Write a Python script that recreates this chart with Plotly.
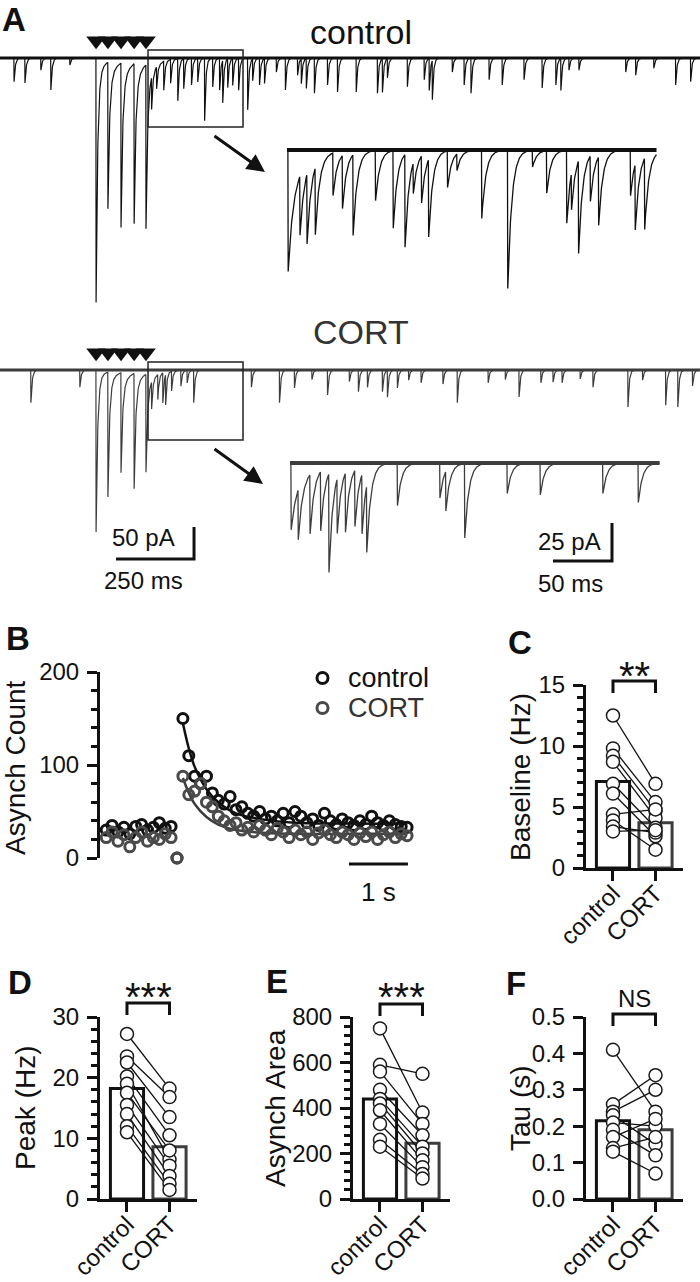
import numpy as np
import plotly.graph_objects as go

# ======================= DATA =======================
# --- Panel A: evoked + spontaneous events, main traces (time in ms, amplitude in pA) ---
STIM_MS = [308, 346, 388, 430, 468]
CTRL_STIM_PEAK_PA = [382, 229, 257, 250, 256]
CTRL_STIM_SLOW_PA = [30, 35, 40, 40, 40]
CORT_STIM_PEAK_PA = [253, 195, 156, 180, 153]
CORT_STIM_SLOW_PA = [15, 20, 25, 25, 25]

CTRL_EVT_MS = [45, 80, 131, 163, 224, 486, 502, 525, 547, 570, 589, 614, 634, 656, 682,
               704, 714, 730, 746, 765, 794, 810, 832, 848, 886, 915, 954, 966, 982, 1008,
               1050, 1082, 1142, 1210, 1226, 1242, 1306, 1360, 1376, 1386, 1450, 1488, 1510,
               1568, 1610, 1680, 1738, 1782, 1798, 1824, 1856, 2006, 2038, 2096, 2166, 2214]
CTRL_EVT_PA = [37, 39, 19, 50, 11, 50, 34, 45, 37, 66, 47, 42, 37, 98, 45,
               50, 66, 45, 42, 50, 81, 34, 42, 39, 22, 50, 27, 39, 47, 55,
               42, 53, 53, 55, 53, 30, 45, 34, 50, 61, 22, 42, 55,
               34, 42, 34, 47, 42, 50, 19, 19, 22, 27, 16, 42, 37]

CORT_EVT_MS = [99, 256, 486, 506, 522, 531, 550, 580, 600, 621, 806, 896, 944, 1000, 1050,
               1120, 1149, 1178, 1226, 1242, 1274, 1310, 1350, 1420, 1466, 1565, 1620, 1664,
               1734, 1773, 1802, 1860, 1901, 2013, 2060, 2134, 2173, 2220]
CORT_EVT_PA = [51, 27, 42, 39, 47, 47, 31, 25, 20, 51, 27, 51, 28, 15, 39,
               18, 34, 27, 34, 42, 28, 16, 20, 22, 51, 20, 15, 42,
               20, 19, 20, 14, 27, 58, 16, 55, 58, 25]

# --- Panel A insets (time from inset start, ms; amplitude pA) ---
CTRL_INSET_TAIL_PA = [80, 30]
CTRL_INSET_MS = [11, 17, 24, 39, 47, 56, 75, 90, 100, 107, 114, 120, 136, 144, 165, 187,
                 208, 220, 237, 241, 247, 257, 264, 291, 295, 303]
CTRL_INSET_PA = [39, 46, 44, 28, 35, 53, 33, 51, 61, 20, 31, 51, 24, 11, 45, 91,
                 11, 28, 48, 24, 61, 30, 45, 30, 43, 47]
CORT_INSET_TAIL_PA = [44, 20]
CORT_INSET_MS = [7, 17, 26, 33, 40, 47, 55, 61, 65, 91, 127, 132, 148, 184, 212, 265, 295]
CORT_INSET_PA = [33, 39, 39, 65, 36, 39, 37, 39, 44, 28, 23, 26, 49, 20, 21, 20, 26]

# --- Panel B: asynchronous event counts per 100 ms bin ---
B_TIME_S = [-1.2, -1.1, -1.0, -0.9, -0.8, -0.7, -0.6, -0.5, -0.4, -0.3, -0.2, -0.1, 0.0,
            0.1, 0.2, 0.3, 0.4, 0.5, 0.6, 0.7, 0.8, 0.9, 1.0,
            1.1, 1.2, 1.3, 1.4, 1.5, 1.6, 1.7, 1.8, 1.9, 2.0,
            2.1, 2.2, 2.3, 2.4, 2.5, 2.6, 2.7, 2.8, 2.9, 3.0,
            3.1, 3.2, 3.3, 3.4, 3.5, 3.6, 3.7, 3.8, 3.9]
B_CTRL = [30, 35, 28, 33, 26, 34, 36, 30, 33, 38, 32, 34, 0,
          150, 110, 88, 80, 88, 70, 62, 58, 66, 52,
          55, 48, 45, 50, 42, 45, 40, 48, 38, 50,
          45, 38, 42, 35, 48, 40, 36, 42, 38, 35,
          40, 36, 45, 38, 35, 40, 36, 34, 33]
B_CORT = [22, 28, 18, 25, 12, 22, 28, 18, 22, 20, 26, 22, 0,
          88, 68, 72, 80, 60, 55, 45, 40, 35, 38,
          30, 33, 28, 35, 30, 25, 32, 28, 22, 30,
          25, 28, 20, 27, 30, 25, 22, 28, 25, 20,
          27, 23, 28, 20, 25, 28, 22, 26, 24]
FIT_T = [0.1, 0.2, 0.3, 0.5, 0.7, 1.0, 1.5, 2.0, 3.0, 3.9]
FIT_CTRL = [145, 118, 98, 74, 60, 48, 41, 38, 37, 37]
FIT_CORT = [86, 70, 58, 44, 36, 30, 27, 26, 26, 26]

# --- Panels C-F: paired values ---
CATS = ["control", "CORT"]
C_CTRL = [12.5, 9.8, 9.2, 8.7, 6.9, 6.1, 4.4, 3.9, 3.4, 3.0]
C_CORT = [6.9, 5.4, 4.7, 4.1, 3.3, 2.6, 4.8, 1.5, 2.9, 3.1]
C_MEAN = [7.1, 3.7]
D_CTRL = [27.2, 23.5, 22.5, 20.2, 19.0, 17.5, 15.5, 14.0, 12.0, 11.0]
D_CORT = [18.2, 16.8, 13.5, 10.5, 6.5, 8.0, 5.5, 3.8, 2.5, 1.5]
D_MEAN = [18.2, 8.6]
E_CTRL = [750, 590, 560, 480, 440, 420, 390, 330, 260, 230]
E_CORT = [380, 550, 330, 280, 230, 200, 170, 140, 110, 90]
E_MEAN = [440, 245]
F_CTRL = [0.41, 0.26, 0.24, 0.23, 0.21, 0.19, 0.17, 0.14, 0.13]
F_CORT = [0.24, 0.34, 0.30, 0.15, 0.20, 0.12, 0.22, 0.17, 0.07]
F_MEAN = [0.215, 0.19]

# ======================= STYLE / LAYOUT HELPERS =======================
W, H = 700, 1282
FONT = "Liberation Sans, Arial, Helvetica, sans-serif"
BLACK = "#111111"
GRAY = "#3d3d3d"
ROW3_BOTTOM, ROW3_TOP = 1199, 1017   # pixel rows of the D-F axes (value 0 and max)


def px(x):
    return x / W


def py(y):
    return 1 - y / H


def current(t, times, amps, tau):
    y = np.zeros_like(t)
    for t0, a in zip(times, amps):
        d = t - t0
        m = d >= 0
        y[m] -= a * np.exp(-d[m] / tau)
    return y


fig = go.Figure()


def line_trace(x, y, ax, color, width, shape="linear"):
    fig.add_trace(go.Scatter(x=x, y=y, mode="lines", xaxis="x" + ax, yaxis="y" + ax,
                             line=dict(color=color, width=width, shape=shape),
                             hoverinfo="skip", showlegend=False))


# ---------------- Panel A: main traces ----------------
t_main = np.arange(0, 2244.5, 0.5)
for ax, evt_ms, evt_pa, peak, slow, col in [
        ("", CTRL_EVT_MS, CTRL_EVT_PA, CTRL_STIM_PEAK_PA, CTRL_STIM_SLOW_PA, BLACK),
        ("2", CORT_EVT_MS, CORT_EVT_PA, CORT_STIM_PEAK_PA, CORT_STIM_SLOW_PA, GRAY)]:
    fast = [p - s for p, s in zip(peak, slow)]
    i = (current(t_main, evt_ms, evt_pa, 4.0) + current(t_main, STIM_MS, fast, 5.0)
         + current(t_main, STIM_MS, slow, 25.0))
    line_trace([t_main[0], t_main[-1]], [0, 0], ax, col, 3.2)
    line_trace(t_main, i, ax, col, 1.2)
    fig.add_trace(go.Scatter(x=STIM_MS, y=[27] * len(STIM_MS), mode="markers",
                             xaxis="x" + ax, yaxis="y" + ax, cliponaxis=False,
                             marker=dict(symbol="triangle-down", size=17, color=BLACK),
                             hoverinfo="skip", showlegend=False))

# ---------------- Panel A: insets ----------------
t_in = np.arange(0, 313.25, 0.25)
for ax, tail, ev_ms, ev_pa, col in [
        ("3", CTRL_INSET_TAIL_PA, CTRL_INSET_MS, CTRL_INSET_PA, BLACK),
        ("4", CORT_INSET_TAIL_PA, CORT_INSET_MS, CORT_INSET_PA, GRAY)]:
    i = (current(t_in, [1.0], [tail[0] - tail[1]], 4.0) + current(t_in, [1.0], [tail[1]], 12.0)
         + current(t_in, ev_ms, ev_pa, 3.5))
    line_trace([t_in[0], t_in[-1]], [0, 0], ax, col, 4.0)
    line_trace(t_in, i, ax, col, 1.3)

# ---------------- Panel B ----------------
line_trace(FIT_T, FIT_CTRL, "5", BLACK, 2.5, "spline")
line_trace(FIT_T, FIT_CORT, "5", GRAY, 2.5, "spline")
for vals, col in [(B_CTRL, BLACK), (B_CORT, "#4a4a4a")]:
    fig.add_trace(go.Scatter(x=B_TIME_S, y=vals, mode="markers", xaxis="x5", yaxis="y5",
                             cliponaxis=False,
                             marker=dict(symbol="circle-open", size=10, color=col,
                                         line=dict(width=3, color=col)),
                             hoverinfo="skip", showlegend=False))
fig.add_trace(go.Scatter(x=[0], y=[-27], mode="markers", xaxis="x5", yaxis="y5", cliponaxis=False,
                         marker=dict(symbol="triangle-up", size=14, color=BLACK),
                         hoverinfo="skip", showlegend=False))


# ---------------- Panels C-F ----------------
def bar_panel(ax, ctrl, cort, means):
    fig.add_trace(go.Bar(x=[0, 1], y=means, width=0.78, xaxis="x" + ax, yaxis="y" + ax,
                         marker=dict(color="white", line=dict(color=[BLACK, GRAY], width=3)),
                         hoverinfo="skip", showlegend=False))
    xs, ys = [], []
    for a, b in zip(ctrl, cort):
        xs += [0, 1, None]
        ys += [a, b, None]
    fig.add_trace(go.Scatter(x=xs, y=ys, mode="lines", xaxis="x" + ax, yaxis="y" + ax,
                             line=dict(color=BLACK, width=1.3), hoverinfo="skip",
                             showlegend=False, cliponaxis=False))
    fig.add_trace(go.Scatter(x=[0] * len(ctrl) + [1] * len(cort), y=list(ctrl) + list(cort),
                             mode="markers", xaxis="x" + ax, yaxis="y" + ax, cliponaxis=False,
                             marker=dict(symbol="circle", size=13, color="white",
                                         line=dict(color="#1a1a1a", width=1.5)),
                             hoverinfo="skip", showlegend=False))


bar_panel("6", C_CTRL, C_CORT, C_MEAN)
bar_panel("7", D_CTRL, D_CORT, D_MEAN)
bar_panel("8", E_CTRL, E_CORT, E_MEAN)
bar_panel("9", F_CTRL, F_CORT, F_MEAN)

# ======================= AXES =======================
hidden = dict(visible=False, showgrid=False, zeroline=False, fixedrange=True, automargin=False)
layout_axes = {
    "xaxis": dict(hidden, domain=[0, 1], range=[0, 2244], anchor="y"),
    "yaxis": dict(hidden, domain=[py(320), py(30)], range=[-409.4, 43.75], anchor="x"),
    "xaxis2": dict(hidden, domain=[0, 1], range=[0, 2244], anchor="y2"),
    "yaxis2": dict(hidden, domain=[py(600), py(335)], range=[-359.4, 54.7], anchor="x2"),
    "xaxis3": dict(hidden, domain=[px(280), px(665)], range=[-5.93, 320.2], anchor="y3"),
    "yaxis3": dict(hidden, domain=[py(300), py(135)], range=[-98.7, 9.87], anchor="x3"),
    "xaxis4": dict(hidden, domain=[px(280), px(665)], range=[-8.47, 317.6], anchor="y4"),
    "yaxis4": dict(hidden, domain=[py(575), py(445)], range=[-73.7, 11.84], anchor="x4"),
    "xaxis5": dict(hidden, domain=[px(100), px(420)], range=[-1.305, 4.119], anchor="y5"),
}

tickfont = dict(family=FONT, size=24, color=BLACK)


def yax(domain, rng, tickvals, minor_dtick, anchor, ticktext=None):
    d = dict(domain=domain, range=rng, anchor=anchor, showline=True, linewidth=3,
             linecolor=BLACK, ticks="outside", ticklen=10, tickwidth=3, tickcolor=BLACK,
             tickvals=tickvals, tickfont=tickfont, showgrid=False, zeroline=False,
             fixedrange=True, automargin=False, ticklabelstandoff=3)
    if ticktext is not None:
        d["ticktext"] = ticktext
    if minor_dtick:
        d["minor"] = dict(dtick=minor_dtick, ticks="outside", ticklen=6, tickwidth=3,
                          tickcolor=BLACK, showgrid=False)
    return d


def xcat(domain, anchor):
    return dict(domain=domain, range=[-0.635, 1.647], anchor=anchor, showline=True,
                linewidth=3, linecolor=BLACK, ticks="outside", ticklen=10, tickwidth=3,
                tickcolor=BLACK, tickvals=[0, 1], ticktext=CATS, tickangle=-45,
                tickfont=dict(family=FONT, size=24, color=BLACK), showgrid=False,
                zeroline=False, fixedrange=True, automargin=False, ticklabelstandoff=-11)


row3 = [py(ROW3_BOTTOM), py(ROW3_TOP)]
layout_axes["yaxis5"] = yax([py(858), py(672)], [0, 200], [0, 100, 200], 20, "x5")
layout_axes["xaxis6"] = xcat([px(586), px(683)], "y6")
layout_axes["yaxis6"] = yax([py(868), py(685)], [0, 15], [0, 5, 10, 15], 1, "x6")
layout_axes["xaxis7"] = xcat([px(100), px(197)], "y7")
layout_axes["yaxis7"] = yax(row3, [0, 30], [0, 10, 20, 30], 2, "x7")
layout_axes["xaxis8"] = xcat([px(353), px(450)], "y8")
layout_axes["yaxis8"] = yax(row3, [0, 800], [0, 200, 400, 600, 800], 40, "x8")
layout_axes["xaxis9"] = xcat([px(586), px(683)], "y9")
layout_axes["yaxis9"] = yax(row3, [0, 0.5], [0, 0.1, 0.2, 0.3, 0.4, 0.5], None,
                            "x9", ["0.0", "0.1", "0.2", "0.3", "0.4", "0.5"])

# ======================= SHAPES =======================
shapes = []
# zoom boxes on the main traces
shapes.append(dict(type="rect", xref="x", yref="y", x0=474.5, x1=779, y0=-107.8, y1=12.5,
                   line=dict(color="#222222", width=1.5)))
shapes.append(dict(type="rect", xref="x2", yref="y2", x0=474.5, x1=779, y0=-109.4, y1=12.5,
                   line=dict(color="#222222", width=1.5)))
# scale bars: main traces (50 pA, 250 ms) and insets (25 pA, 50 ms)
SB_MAIN = (622, -295.3, 250, 50)
SB_INSET = (272.7, -64.5, 50, 25)
cx, cy, dx, dy = SB_MAIN
shapes.append(dict(type="path", xref="x2", yref="y2",
                   path=f"M {cx - dx},{cy} L {cx},{cy} L {cx},{cy + dy}",
                   line=dict(color=BLACK, width=3)))
cx, cy, dx, dy = SB_INSET
shapes.append(dict(type="path", xref="x4", yref="y4",
                   path=f"M {cx - dx},{cy} L {cx},{cy} L {cx},{cy + dy}",
                   line=dict(color=BLACK, width=3)))
# 1 s bar in panel B
shapes.append(dict(type="line", xref="x5", yref="paper", x0=2.915, x1=3.915, y0=py(864), y1=py(864),
                   line=dict(color=BLACK, width=3)))
# legend markers in B
for yc, col in [(678, BLACK), (708, "#4a4a4a")]:
    shapes.append(dict(type="circle", xref="paper", yref="paper", x0=px(317), x1=px(328),
                       y0=py(yc + 5.5), y1=py(yc - 5.5), line=dict(color=col, width=3)))
# significance brackets
dr = ROW3_TOP - 1021
for ax, top, foot in [("6", 681, 693), ("7", 1007 + dr, 1019 + dr), ("8", 1008 + dr, 1020 + dr),
                      ("9", 1018 + dr, 1030 + dr)]:
    shapes.append(dict(type="path", xref="x" + ax, yref="paper",
                       path=f"M 0,{py(foot)} L 0,{py(top)} L 1,{py(top)} L 1,{py(foot)}",
                       line=dict(color=BLACK, width=3)))

# ======================= ANNOTATIONS =======================
ann = []


def text(t, x, y, size, color=BLACK, xanchor="center", yanchor="middle", bold=False, angle=0,
         xref="paper", yref="paper"):
    ann.append(dict(text=f"<b>{t}</b>" if bold else t, x=x, y=y, xref=xref, yref=yref,
                    showarrow=False, font=dict(family=FONT, size=size, color=color),
                    xanchor=xanchor, yanchor=yanchor, textangle=angle))


for lab, x, y in [("A", 0, 20), ("B", 4, 638), ("C", 506, 642), ("D", 6, 986 + dr),
                  ("E", 264, 985 + dr), ("F", 504, 987 + dr)]:
    text(lab, px(x), py(y), 33, bold=True, xanchor="left")
text("control", px(361), py(32), 34)
text("CORT", px(361), py(332), 34, color="#333333")
text("50 pA", px(143), py(537), 24)
text("250 ms", px(143), py(581), 24)
text("25 pA", px(569), py(542), 24)
text("50 ms", px(570), py(583), 24)
text("1 s", 3.415, py(892), 26, xref="x5")
text("control", px(346), py(678), 27, xanchor="left")
text("CORT", px(346), py(708), 27, color="#333333", xanchor="left")
text("Asynch Count", px(15), py(768), 28, angle=-90)
text("Baseline (Hz)", px(520), py(777), 28, angle=-90)
text("Peak (Hz)", px(25), py(1108), 28, angle=-90)
text("Asynch Area", px(275), py(1108), 28, angle=-90)
text("Tau (s)", px(520), py(1108), 28, angle=-90)
text("**", 0.5, py(676), 40, xref="x6")
text("***", 0.5, py(1001 + dr), 40, xref="x7")
text("***", 0.5, py(1001 + dr), 40, xref="x8")
text("NS", 0.5, py(1002 + dr), 24, xref="x9")
# arrows from zoom boxes to insets
for hx, hy, ax_, ay_ in [(265, 172, -52, -37), (263, 484, -50, -36)]:
    ann.append(dict(x=px(hx), y=py(hy), xref="paper", yref="paper", ax=ax_, ay=ay_,
                    axref="pixel", ayref="pixel", text="", showarrow=True, arrowhead=2,
                    arrowsize=1.2, arrowwidth=3, arrowcolor=BLACK))

fig.update_layout(template="none", width=W, height=H,
                  margin=dict(l=0, r=0, t=0, b=0, pad=0, autoexpand=False),
                  paper_bgcolor="white", plot_bgcolor="rgba(0,0,0,0)", showlegend=False,
                  shapes=shapes, annotations=ann, bargap=0, font=dict(family=FONT, color=BLACK),
                  **layout_axes)
# the page's default 8 px body margin would shift the 700x1282 figure; remove it
fig.write_html("out.html", config={"displayModeBar": False, "staticPlot": True},
               post_script="document.body.style.margin='0px';")
